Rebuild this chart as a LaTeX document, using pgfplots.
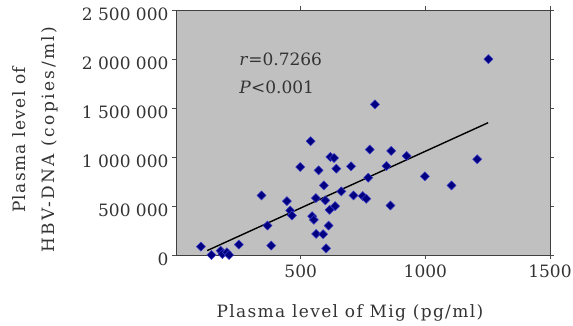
\documentclass[border=0pt]{standalone}
\usepackage{pgfplots}
\pgfplotsset{compat=1.18}
\usepackage{fontspec}
\setmainfont{DejaVu Serif}
\newfontfamily\wideA[LetterSpace=8]{DejaVu Serif}
\newfontfamily\wideB[LetterSpace=14]{DejaVu Serif}
\definecolor{plotbg}{RGB}{192,192,192}
\definecolor{mk}{RGB}{0,0,128}
\definecolor{mkedge}{RGB}{60,60,200}
\begin{document}
\begin{tikzpicture}[x=1pt,y=1pt]
\useasboundingbox (0,0) rectangle (573,326);
\begin{axis}[
  at={(176pt,71pt)}, anchor=south west,
  scale only axis, width=374pt, height=245pt,
  xmin=0, xmax=1500, ymin=0, ymax=2500000,
  scaled y ticks=false, scaled x ticks=false,
  axis background/.style={fill=plotbg},
  axis line style={draw=black!75, line width=0.8pt},
  xtick={500,1000,1500}, xticklabels={500,1000,1500},
  ytick={0,500000,1000000,1500000,2000000,2500000},
  yticklabels={0,500 000,1 000 000,1 500 000,2 000 000,2 500 000},
  tick align=outside, major tick length=4pt,
  tick style={black!70, line width=0.6pt},
  ticklabel style={font=\fontsize{17}{20}\selectfont, text=black!80},
  yticklabel style={yshift=-4pt},
  xticklabel style={yshift=-2pt},
  xlabel={Plasma level of Mig (pg/ml)},
  ylabel={{\wideA Plasma level of}\\[7pt]{\wideB HBV-DNA (copies/ml)}},
  xlabel style={at={(axis description cs:0.465,-0.237)}, anchor=center, font=\wideA\fontsize{17}{20}\selectfont, text=black!80},
  ylabel style={at={(axis description cs:-0.377,0.47)}, anchor=center, align=center, font=\fontsize{17}{22}\selectfont, text=black!80},
  clip=false,
]
\addplot[only marks, mark=square*, mark size=3.2pt, mark options={rotate=45, fill=mk, draw=mkedge, line width=0.5pt}] coordinates {
(100,85000) (142,0) (179,44000) (186,10000) (204,27000) (213,0)
(252,106000) (343,608000) (367,300000) (382,96000) (445,550000)
(458,454000) (465,403000) (498,898000) (540,1161000) (546,396000)
(553,359000) (561,581000) (562,215000) (572,864000) (590,212000)
(593,710000) (599,557000) (602,68000) (612,300000) (616,461000)
(619,1001000) (634,990000) (638,499000) (643,881000) (663,649000)
(702,905000) (712,608000) (749,601000) (763,574000) (771,789000)
(777,1076000) (798,1537000) (844,908000) (860,505000) (863,1062000)
(925,1011000) (998,803000) (1105,710000) (1208,977000) (1253,1998000)
};
\addplot[black, line width=1.4pt] coordinates {(125,45000) (1252,1350000)};
\node[anchor=west, font=\fontsize{17}{20}\selectfont, text=black!80] at (axis cs:240,2000000) {\textit{r}=0.7266};
\node[anchor=west, font=\fontsize{17}{20}\selectfont, text=black!80] at (axis cs:240,1710000) {\textit{P}<0.001};
\end{axis}
\end{tikzpicture}
\end{document}
